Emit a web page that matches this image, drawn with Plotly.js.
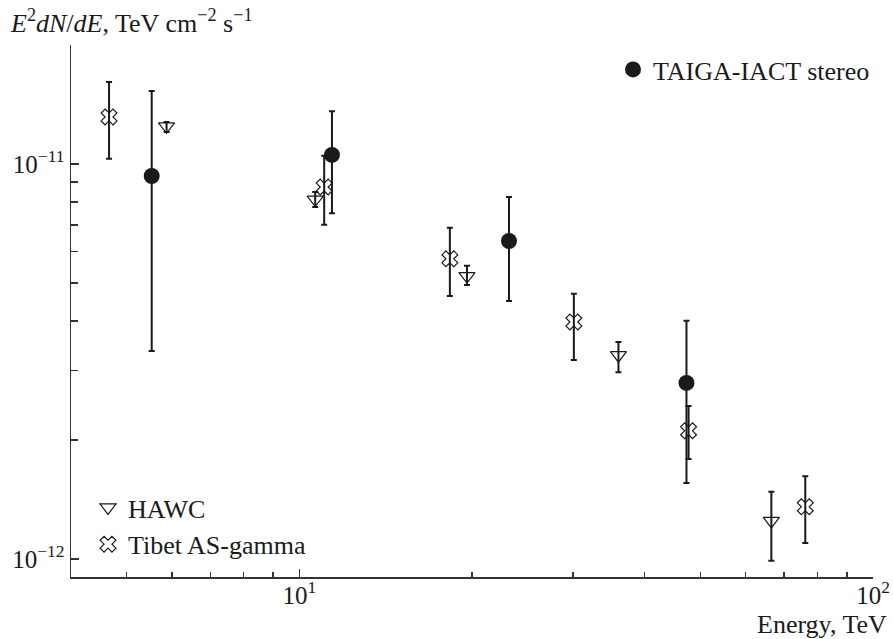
<!DOCTYPE html>
<html>
<head>
<meta charset="utf-8">
<script src="https://cdn.plot.ly/plotly-3.0.1.min.js"></script>
<style>html,body{margin:0;padding:0;background:#fff;}#chart{width:893px;height:639px;}</style>
</head>
<body>
<div id="chart"></div>
<script>
// TAIGA-IACT stereo
var taigaE  = [5.53, 11.4, 23.2, 47.3];
var taigaF  = [9.32e-12, 1.054e-11, 6.38e-12, 2.79e-12];
var taigaHi = [1.53e-11, 1.36e-11, 8.25e-12, 4.01e-12];
var taigaLo = [3.36e-12, 7.5e-12, 4.5e-12, 1.556e-12];

// HAWC
var hawcE  = [5.87, 10.66, 19.6, 36.0, 66.5];
var hawcF  = [1.245e-11, 8.12e-12, 5.2e-12, 3.28e-12, 1.248e-12];
var hawcHi = [1.277e-11, 8.49e-12, 5.52e-12, 3.54e-12, 1.479e-12];
var hawcLo = [1.205e-11, 7.78e-12, 4.94e-12, 2.97e-12, 9.89e-13];

// Tibet AS-gamma
var tibetE  = [4.66, 11.05, 18.3, 30.1, 47.7, 76.2];
var tibetF  = [1.315e-11, 8.74e-12, 5.75e-12, 3.98e-12, 2.11e-12, 1.355e-12];
var tibetHi = [1.613e-11, 1.048e-11, 6.89e-12, 4.69e-12, 2.44e-12, 1.62e-12];
var tibetLo = [1.03e-11, 7.01e-12, 4.63e-12, 3.19e-12, 1.79e-12, 1.097e-12];

var xTickVals = [10, 100];
var xTickText = ['10<sup>1</sup>', '10<sup>2</sup>'];
var xMinorVals = [5, 6, 7, 8, 9, 20, 30, 40, 50, 60, 70, 80, 90];
var yTickVals = [1e-12, 1e-11];
var yTickText = ['10<sup>\u221212</sup>', '10<sup>\u221211</sup>'];
var yMinorVals = [2e-12, 3e-12, 4e-12, 5e-12, 6e-12, 7e-12, 8e-12, 9e-12, 2e-11];

function diff(a, b) { return a.map(function (v, i) { return Math.abs(v - b[i]); }); }

var FONT = 'Liberation Serif, Times New Roman, serif';
var INK = '#1a1a1a';

function errY(hi, lo, f) {
  return {type: 'data', symmetric: false, array: diff(hi, f), arrayminus: diff(f, lo),
          color: INK, thickness: 2, width: 3};
}

var traces = [
  {
    x: tibetE, y: tibetF, name: 'Tibet AS-gamma', type: 'scatter', mode: 'markers',
    legend: 'legend2',
    marker: {symbol: 'x-open', size: 14, color: INK, line: {width: 1.2, color: INK}},
    error_y: errY(tibetHi, tibetLo, tibetF)
  },
  {
    x: hawcE, y: hawcF, name: 'HAWC', type: 'scatter', mode: 'markers',
    legend: 'legend2',
    marker: {symbol: 'triangle-down-open', size: 14, color: INK, line: {width: 1.2, color: INK}},
    error_y: errY(hawcHi, hawcLo, hawcF)
  },
  {
    x: taigaE, y: taigaF, name: 'TAIGA-IACT stereo', type: 'scatter', mode: 'markers',
    legend: 'legend',
    marker: {symbol: 'circle', size: 16, color: INK},
    error_y: errY(taigaHi, taigaLo, taigaF)
  }
];

var L = 71, R = 20, T = 45, B = 62, W = 893, H = 639;
var pw = W - L - R, ph = H - T - B;
function px(x) { return (x - L) / pw; }
function py(y) { return (H - B - y) / ph; }

var layout = {
  width: W, height: H,
  margin: {l: L, r: R, t: T, b: B, pad: 0},
  paper_bgcolor: '#fff', plot_bgcolor: '#fff',
  font: {family: FONT, size: 26, color: INK},
  showlegend: true,
  xaxis: {
    type: 'log', range: [Math.log10(4), 2],
    showline: true, linecolor: '#333', linewidth: 1.5, mirror: false,
    showgrid: false, zeroline: false,
    ticks: 'inside', ticklen: 8, tickwidth: 1.5, tickcolor: '#333',
    tickmode: 'array', tickvals: xTickVals, ticktext: xTickText,
    ticklabelstandoff: -5,
    tickfont: {family: FONT, size: 25, color: INK},
    minor: {tickmode: 'array', tickvals: xMinorVals, ticks: 'inside', ticklen: 5, tickwidth: 1.5, tickcolor: '#333', showgrid: false}
  },
  yaxis: {
    type: 'log', range: [Math.log10(9e-13), Math.log10(2e-11)],
    showline: true, linecolor: '#333', linewidth: 1.5, mirror: false,
    showgrid: false, zeroline: false,
    ticks: 'inside', ticklen: 8, tickwidth: 1.5, tickcolor: '#333',
    tickmode: 'array', tickvals: yTickVals, ticktext: yTickText,
    tickfont: {family: FONT, size: 25, color: INK},
    minor: {tickmode: 'array', tickvals: yMinorVals, ticks: 'inside', ticklen: 7, tickwidth: 1.5, tickcolor: '#333', showgrid: false}
  },
  legend: {
    x: px(613), y: py(46), xanchor: 'left', yanchor: 'top',
    bgcolor: 'rgba(0,0,0,0)', borderwidth: 0,
    font: {family: FONT, size: 26, color: INK}
  },
  legend2: {
    x: px(88), y: py(568), xanchor: 'left', yanchor: 'bottom',
    bgcolor: 'rgba(0,0,0,0)', borderwidth: 0, traceorder: 'reversed',
    font: {family: FONT, size: 26, color: INK}
  },
  annotations: [
    {
      xref: 'paper', yref: 'paper', x: px(8), y: py(3), xanchor: 'left', yanchor: 'top',
      showarrow: false,
      text: '<i>E</i><sup>2</sup><i>dN</i>/<i>dE</i>, TeV cm<sup>\u22122</sup> s<sup>\u22121</sup>',
      font: {family: FONT, size: 26, color: INK}
    },
    {
      xref: 'paper', yref: 'paper', x: px(889), y: py(624), xanchor: 'right', yanchor: 'middle',
      showarrow: false, text: 'Energy, TeV',
      font: {family: FONT, size: 26, color: INK}
    }
  ]
};

Plotly.newPlot('chart', traces, layout, {displayModeBar: false, staticPlot: true});
</script>
</body>
</html>
